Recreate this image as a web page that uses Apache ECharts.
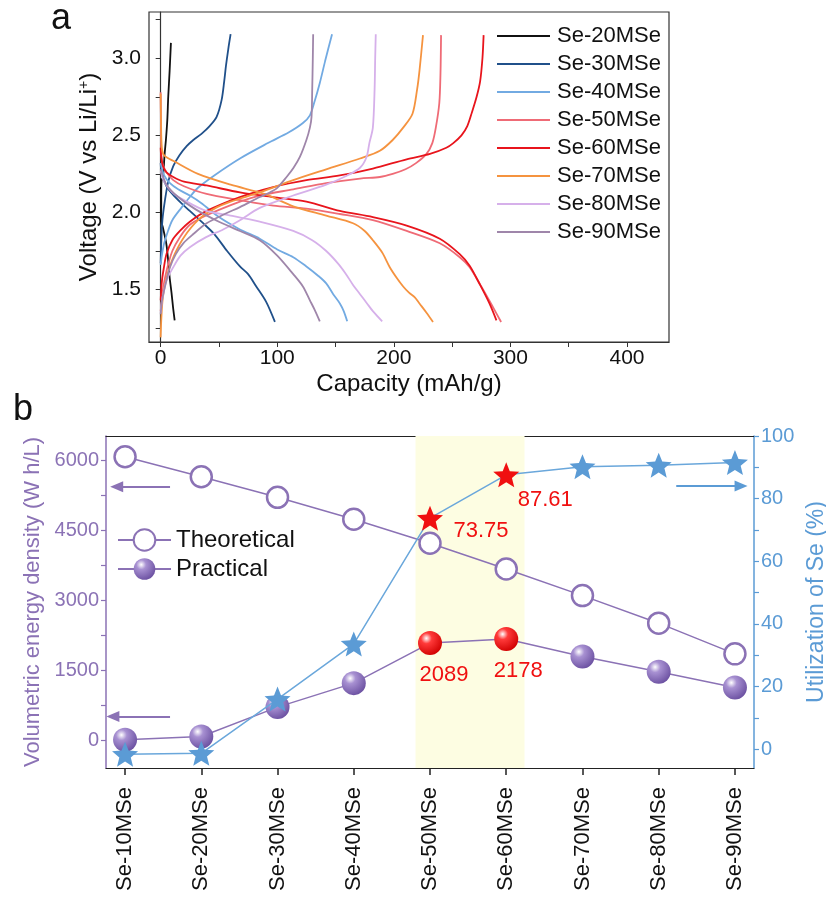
<!DOCTYPE html>
<html><head><meta charset="utf-8">
<script src="https://cdn.jsdelivr.net/npm/echarts@6/dist/echarts.min.js"></script>
<style>html,body{margin:0;padding:0;background:#fff}#c{width:826px;height:908px}</style>
</head><body><div id="c"></div>
<script>
// ---------- Panel a data: [capacity mAh/g, voltage V] ----------
const seriesNamesA = ['Se-20MSe','Se-30MSe','Se-40MSe','Se-50MSe','Se-60MSe','Se-70MSe','Se-80MSe','Se-90MSe'];
const colorsA = ['#111111','#20508a','#72aae2','#ef6b76','#e8141c','#f5933f','#d6b0ea','#9f86aa'];
const capTicks = [0,50,100,150,200,250,300,350,400];
const capLabels = [0,100,200,300,400];
const voltTicks = [1.25,1.5,1.75,2.0,2.25,2.5,2.75,3.0,3.25];
const voltLabels = [1.5,2.0,2.5,3.0];

const dis20 = [[0.2,2.22],[0.3,2.1],[0.4,1.95],[2,1.9],[4.8,1.8],[6.3,1.7],[7.7,1.58],[9.3,1.48],[10.7,1.38],[12,1.30]];
const chg20 = [[0.5,1.94],[0.5,2.1],[0.7,2.2],[2,2.23],[3.4,2.38],[4.5,2.47],[5.7,2.6],[6.5,2.75],[7.7,2.92],[8.8,3.1]];
const dis30 = [[0,2.32],[1,2.25],[5,2.17],[10,2.12],[17.7,2.06],[25,2.01],[35,1.94],[46,1.86],[57,1.75],[68,1.65],[75,1.60],[82,1.52],[90.5,1.42],[98,1.29]];
const chg30 = [[0,1.67],[0.5,1.8],[1.5,1.95],[3.7,2.08],[6.5,2.2],[10.8,2.30],[16,2.37],[22.3,2.43],[28,2.47],[35,2.51],[42,2.56],[48,2.62],[52.3,2.73],[54.5,2.85],[56,2.95],[58,3.06],[60,3.156]];
const dis40 = [[0,2.32],[3,2.24],[8,2.19],[15,2.15],[25,2.11],[35,2.06],[50,1.97],[68,1.89],[85,1.83],[100,1.76],[113.7,1.71],[125,1.65],[135,1.59],[142,1.54],[148,1.47],[153.7,1.41],[157,1.36],[160,1.294]];
const chg40 = [[0,1.66],[1,1.72],[3,1.80],[6.3,1.88],[10,1.95],[17.7,2.03],[25,2.1],[32,2.16],[46,2.24],[68,2.35],[92,2.45],[110,2.52],[122,2.58],[128,2.63],[132,2.72],[136.5,2.84],[141,2.98],[147,3.156]];
const dis50 = [[0,2.78],[0.2,2.6],[0.5,2.4],[1.5,2.32],[5,2.26],[10.8,2.21],[20,2.17],[39.4,2.12],[68,2.08],[96.5,2.045],[125,2.025],[153.7,1.99],[182,1.95],[211,1.88],[239.4,1.80],[256.5,1.71],[265,1.645],[275,1.52],[284,1.40],[292,1.29]];
const chg50 = [[0,1.36],[2,1.5],[5,1.62],[10,1.75],[16.5,1.84],[25,1.92],[39,1.98],[68,2.07],[85,2.11],[113.7,2.15],[142,2.19],[171,2.22],[188,2.23],[199,2.25],[210,2.28],[219,2.32],[228,2.38],[233,2.45],[236,2.55],[239,2.71],[240,2.9],[240.5,3.15]];
const dis60 = [[0,2.42],[0.5,2.36],[2,2.3],[5,2.26],[10.8,2.23],[20,2.2],[39.4,2.175],[68,2.13],[96.5,2.10],[125,2.07],[153.7,2.01],[182,1.97],[211,1.915],[239.4,1.83],[256.5,1.73],[265,1.655],[274,1.53],[282,1.41],[288,1.30]];
const chg60 = [[0,1.43],[1,1.55],[2.5,1.63],[5,1.73],[10,1.82],[16.5,1.88],[25,1.94],[39.4,2.01],[68,2.10],[96.5,2.165],[125,2.21],[153.7,2.24],[182,2.285],[211,2.345],[231,2.38],[245,2.42],[251,2.45],[258,2.50],[263,2.56],[267,2.65],[271,2.75],[274,2.85],[276,3.0],[277,3.15]];
const dis70 = [[0,2.77],[0.3,2.6],[1,2.42],[3,2.37],[12,2.33],[32,2.25],[60,2.18],[89,2.12],[113.7,2.04],[142,1.98],[165,1.93],[175,1.88],[182,1.82],[190,1.74],[196.5,1.645],[203,1.57],[208,1.52],[213,1.48],[218,1.45],[222,1.41],[228,1.35],[233.6,1.29]];
const chg70 = [[0,1.19],[0.5,1.3],[1.5,1.42],[3.4,1.52],[7,1.63],[12,1.73],[20,1.84],[32,1.95],[45,2.02],[60,2.07],[85,2.13],[113.7,2.21],[142,2.28],[171,2.35],[188,2.40],[199,2.47],[208,2.55],[216,2.64],[220,2.8],[222,2.92],[225,3.15]];
const dis80 = [[0,2.27],[3,2.2],[10,2.13],[20,2.08],[39,2.01],[60,1.98],[85,1.94],[113.7,1.88],[130,1.82],[142,1.75],[152,1.67],[159,1.60],[165,1.53],[171,1.47],[177,1.41],[182,1.36],[190,1.294]];
const chg80 = [[0,1.35],[1,1.42],[2.2,1.47],[5,1.56],[10.8,1.645],[17,1.72],[25,1.775],[39,1.84],[53.6,1.89],[68,1.95],[85,2.03],[113.7,2.11],[142,2.18],[160,2.24],[171,2.29],[176.6,2.36],[179,2.45],[182,2.55],[183.5,2.8],[184,3.0],[184.5,3.156]];
const dis90 = [[0,2.28],[5,2.18],[15,2.1],[30,2.02],[50,1.94],[68,1.88],[85,1.82],[100,1.72],[113.7,1.60],[122,1.52],[128,1.43],[132,1.37],[136.5,1.294]];
const chg90 = [[0,1.34],[1,1.42],[2.2,1.47],[5,1.56],[8,1.645],[13,1.73],[19.4,1.80],[28,1.86],[39.4,1.93],[55,1.99],[68,2.035],[85,2.10],[93.7,2.13],[100,2.16],[108,2.23],[114,2.29],[119.4,2.36],[125,2.47],[128,2.55],[129.4,2.62],[130,2.8],[130.5,3.0],[130.8,3.156]];
const dischargeA = [dis20,dis30,dis40,dis50,dis60,dis70,dis80,dis90];
const chargeA = [chg20,chg30,chg40,chg50,chg60,chg70,chg80,chg90];

// ---------- Panel b data ----------
const samplesB = ['Se-10MSe','Se-20MSe','Se-30MSe','Se-40MSe','Se-50MSe','Se-60MSe','Se-70MSe','Se-80MSe','Se-90MSe'];
const theoretical = [6086,5657,5215,4744,4230,3679,3107,2516,1858];
const practical = [15,86,716,1230,2089,2178,1800,1472,1136];
const utilization = [-1.6,-1.3,16.0,33.6,73.75,87.61,90.2,90.7,91.5];
const highlightIdx = [4,5];
const energyTicks = [0,750,1500,2250,3000,3750,4500,5250,6000];
const energyLabels = [0,1500,3000,4500,6000];
const utilTicks = [0,10,20,30,40,50,60,70,80,90,100];
const utilLabels = [0,20,40,60,80,100];

const FONT = 'Liberation Sans, Arial, Helvetica, sans-serif';
const PURPLE = '#8b72b5';
const BLUE = '#5b9bd5';
const RED = '#f01010';
const STAR = 'path://M50,0L62.93,32.2L97.55,34.55L70.92,56.8L79.39,90.45L50,72L20.61,90.45L29.08,56.8L2.45,34.55L37.07,32.2Z';

const chart = echarts.init(document.getElementById('c'), null, {renderer:'canvas'});

const purpleBall = new echarts.graphic.RadialGradient(0.35,0.3,0.75,[
  {offset:0,color:'#ffffff'},{offset:0.3,color:'#a891d2'},{offset:1,color:'#6a4fa0'}]);
const redBall = new echarts.graphic.RadialGradient(0.35,0.3,0.75,[
  {offset:0,color:'#ffffff'},{offset:0.3,color:'#ff3a3a'},{offset:1,color:'#d00000'}]);

const seriesA = [];
seriesNamesA.forEach((n,i)=>{
  [dischargeA[i],chargeA[i]].forEach(d=>{
    seriesA.push({type:'line',name:n,xAxisIndex:0,yAxisIndex:0,data:d,symbol:'none',smooth:0.3,
      lineStyle:{color:colorsA[i],width:1.8},itemStyle:{color:colorsA[i]},silent:true});
  });
});

const labelOffsetsStar = {4:[51,13],5:[39,25]};
const labelOffsetsBall = {4:[14,32],5:[12,32]};

const theoData = theoretical.map((v,i)=>[i,v]);
const pracData = practical.map((v,i)=>highlightIdx.includes(i)?{
  value:[i,v],itemStyle:{color:redBall},
  label:{show:true,position:'inside',offset:labelOffsetsBall[i],color:RED,fontSize:22,fontFamily:FONT,formatter:p=>String(p.value[1])}
}:[i,v]);
const utilData = utilization.map((v,i)=>highlightIdx.includes(i)?{
  value:[i,v],itemStyle:{color:RED},
  label:{show:true,position:'inside',offset:labelOffsetsStar[i],color:RED,fontSize:22,fontFamily:FONT,formatter:p=>String(p.value[1])}
}:[i,v]);

const option = {
  animation:false,
  backgroundColor:'#fff',
  textStyle:{fontFamily:FONT},
  grid:[
    {left:149,top:12,width:520,height:330,show:true,borderColor:'#333',borderWidth:1.2,backgroundColor:'transparent',containLabel:false,outerBoundsMode:'none'},
    {left:106,top:436,width:648,height:332,show:false,containLabel:false,outerBoundsMode:'none'}
  ],
  legend:[
    {data:seriesNamesA,orient:'vertical',left:497,top:25,padding:0,icon:'rect',itemWidth:53,itemHeight:2,itemGap:6,
     textStyle:{fontSize:22,color:'#111',fontFamily:FONT,padding:[0,0,0,2]},selectedMode:false},
    {data:['Theoretical','Practical'],orient:'vertical',left:117,top:528,padding:0,itemWidth:53,itemHeight:27,itemGap:5,
     textStyle:{fontSize:24,color:'#111',fontFamily:FONT},selectedMode:false}
  ],
  xAxis:[
    {type:'value',gridIndex:0,min:-10,max:436,
     name:'Capacity (mAh/g)',nameLocation:'middle',nameGap:30,nameTextStyle:{fontSize:24,color:'#111',fontFamily:FONT},
     axisLine:{show:true,lineStyle:{color:'#333',width:1.2}},
     axisTick:{show:true,inside:false,length:5,customValues:capTicks,lineStyle:{color:'#333'}},
     axisLabel:{show:true,customValues:capLabels,fontSize:21,color:'#111',margin:6,fontFamily:FONT},
     splitLine:{show:false}},
    {type:'value',gridIndex:1,min:-0.25,max:8.25,
     axisLine:{show:true,onZero:false,lineStyle:{color:'#222',width:1.2}},
     axisTick:{show:true,length:7,customValues:[0,1,2,3,4,5,6,7,8],lineStyle:{color:'#222',width:1.5}},
     axisLabel:{show:true,customValues:[0,1,2,3,4,5,6,7,8],rotate:90,fontSize:22,color:'#111',margin:19,fontFamily:FONT,
       formatter:v=>samplesB[Math.round(v)]},
     splitLine:{show:false}},
    {type:'value',gridIndex:1,min:-0.25,max:8.25,position:'top',
     axisLine:{show:true,onZero:false,lineStyle:{color:'#222',width:1.2}},
     axisTick:{show:false},axisLabel:{show:false},splitLine:{show:false}}
  ],
  yAxis:[
    {type:'value',gridIndex:0,min:1.16,max:3.30,
     name:'Voltage (V vs Li/Li{sup|+})',nameLocation:'middle',nameGap:48,
     nameTextStyle:{fontSize:24,color:'#111',fontFamily:FONT,rich:{sup:{fontSize:14,verticalAlign:'top',color:'#111',fontFamily:FONT}}},
     axisLine:{show:true,lineStyle:{color:'#333',width:1.2}},
     axisTick:{show:true,length:5,customValues:voltTicks,lineStyle:{color:'#333'}},
     axisLabel:{show:true,customValues:voltLabels,fontSize:21,color:'#111',margin:8,fontFamily:FONT,formatter:v=>v.toFixed(1)},
     splitLine:{show:false}},
    {type:'value',gridIndex:1,min:-590,max:6530,position:'left',
     name:'Volumetric energy density (W h/L)',nameLocation:'middle',nameGap:55,
     nameTextStyle:{fontSize:22,color:PURPLE,fontFamily:FONT},
     axisLine:{show:true,onZero:false,lineStyle:{color:PURPLE,width:1.5}},
     axisTick:{show:true,length:5,customValues:energyTicks,lineStyle:{color:PURPLE,width:1.2}},
     axisLabel:{show:true,customValues:energyLabels,fontSize:20,color:PURPLE,margin:7,fontFamily:FONT,formatter:v=>String(v)},
     splitLine:{show:false}},
    {type:'value',gridIndex:1,min:-6,max:100,position:'right',
     name:'Utilization of Se (%)',nameLocation:'middle',nameGap:49,nameRotate:90,
     nameTextStyle:{fontSize:23,color:BLUE,fontFamily:FONT},
     axisLine:{show:true,onZero:false,lineStyle:{color:BLUE,width:1.5}},
     axisTick:{show:true,length:5,customValues:utilTicks,lineStyle:{color:BLUE,width:1.2}},
     axisLabel:{show:true,customValues:utilLabels,fontSize:20,color:BLUE,margin:7,fontFamily:FONT,formatter:v=>String(v)},
     splitLine:{show:false}}
  ],
  series:[
    ...seriesA,
    {type:'line',name:'Theoretical',xAxisIndex:1,yAxisIndex:1,data:theoData,symbol:'circle',symbolSize:21,
     lineStyle:{color:PURPLE,width:1.5},itemStyle:{color:'#ffffff',borderColor:PURPLE,borderWidth:2.5},z:3,silent:true,
     markArea:{silent:true,itemStyle:{color:'#fdfde2'},data:[[{xAxis:3.81},{xAxis:5.24}]]},
     markLine:{silent:true,symbol:['none','triangle'],symbolSize:[11,13],label:{show:false},
       lineStyle:{color:PURPLE,width:2.2,type:'solid'},
       data:[[{coord:[0.59,5443]},{coord:[-0.11,5443]}],[{coord:[0.59,514]},{coord:[-0.16,514]}]]}},
    {type:'line',name:'Practical',xAxisIndex:1,yAxisIndex:1,data:pracData,symbol:'circle',symbolSize:24,
     lineStyle:{color:PURPLE,width:1.5},itemStyle:{color:purpleBall},z:3,silent:true},
    {type:'line',name:'Utilization',xAxisIndex:1,yAxisIndex:2,data:utilData,symbol:STAR,symbolSize:[26,25],
     lineStyle:{color:'#6aa7db',width:1.5},itemStyle:{color:BLUE},z:4,silent:true,
     markLine:{silent:true,symbol:['none','triangle'],symbolSize:[11,13],label:{show:false},
       lineStyle:{color:BLUE,width:2.2,type:'solid'},
       data:[[{coord:[7.23,84]},{coord:[8.08,84]}]]}}
  ],
  graphic:[
    {type:'text',left:51,top:1,style:{text:'a',fontSize:36,fontFamily:FONT,fill:'#111'}},
    {type:'text',left:13,top:392,style:{text:'b',fontSize:36,fontFamily:FONT,fill:'#111'}}
  ]
};
chart.setOption(option);
</script>
</body></html>
